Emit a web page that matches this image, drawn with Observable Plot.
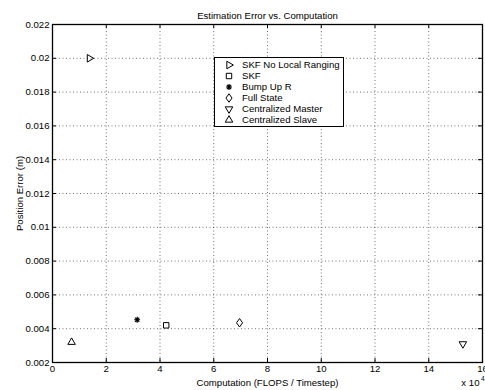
<!DOCTYPE html>
<html>
<head>
<meta charset="utf-8">
<script src="https://cdn.jsdelivr.net/npm/d3@7"></script>
<script src="https://cdn.jsdelivr.net/npm/@observablehq/plot@0.6"></script>
<style>
  html, body { margin: 0; padding: 0; background: #fff; }
  #wrap { position: relative; width: 485px; height: 390px; font-family: 'Liberation Sans', Arial, sans-serif; }
  #legend { position: absolute; left: 214px; top: 57px; width: 128px; height: 67px; border: 1px solid #000; background: #fff; box-sizing: content-box; padding-top: 1px; }
  .row { display: flex; align-items: center; height: 11px; font-size: 9.6px; color: #000; white-space: nowrap; }
  .row svg { flex: none; width: 12px; height: 10px; margin-left: 8px; margin-right: 7px; overflow: visible; }
</style>
</head>
<body>
<div id="wrap"></div>
<script>
// ---- data ----
const names = ["SKF No Local Ranging", "SKF", "Bump Up R", "Full State", "Centralized Master", "Centralized Slave"];
const flops = [13750, 42300, 31500, 69600, 152700, 7100];
const posErr = [0.0200, 0.0042, 0.00453, 0.00435, 0.0031, 0.0032];
const xTicks = [0, 20000, 40000, 60000, 80000, 100000, 120000, 140000, 160000];
const yTicks = [0.002, 0.004, 0.006, 0.008, 0.010, 0.012, 0.014, 0.016, 0.018, 0.020, 0.022];
const titleText = "Estimation Error vs. Computation";
const xLabel = "Computation (FLOPS / Timestep)";
const yLabel = "Position Error (m)";

// ---- custom marker shapes (MATLAB-like) ----
function triangle(angleDeg) {
  return {
    draw(ctx, size) {
      const R = Math.sqrt(size) * 0.72;
      for (let i = 0; i < 3; i++) {
        const a = (angleDeg + i * 120) * Math.PI / 180;
        const px = R * Math.cos(a), py = -R * Math.sin(a);
        if (i === 0) ctx.moveTo(px, py); else ctx.lineTo(px, py);
      }
      ctx.closePath();
    }
  };
}
const asterisk8 = {
  draw(ctx, size) {
    const r = Math.sqrt(size) * 0.5;
    const d = r * Math.SQRT1_2;
    ctx.moveTo(-r, 0); ctx.lineTo(r, 0);
    ctx.moveTo(0, -r); ctx.lineTo(0, r);
    ctx.moveTo(-d, -d); ctx.lineTo(d, d);
    ctx.moveTo(-d, d); ctx.lineTo(d, -d);
  }
};
const square = {
  draw(ctx, size) {
    const s = Math.sqrt(size) * 0.45;
    ctx.rect(-s, -s, 2 * s, 2 * s);
  }
};
const diamond = {
  draw(ctx, size) {
    const h = Math.sqrt(size) * 0.7, w = h * 0.72;
    ctx.moveTo(0, -h); ctx.lineTo(w, 0); ctx.lineTo(0, h); ctx.lineTo(-w, 0); ctx.closePath();
  }
};
const shapes = [triangle(0), square, asterisk8, diamond, triangle(-90), triangle(90)];
const boldName = "Bump Up R";

const data = names.map((n, i) => ({name: n, x: flops[i], y: posErr[i]}));

const W = 485, H = 390, mL = 52, mR = 3, mT = 24, mB = 28;
const innerH = H - mT - mB, innerW = W - mL - mR;
const font = "'Liberation Sans', Arial, sans-serif";
const fs = 9.6;
const fmtY = d => String(+d.toFixed(3));
const fmtX = d => String(d / 1e4);

const chart = Plot.plot({
  width: W, height: H,
  marginLeft: mL, marginRight: mR, marginTop: mT, marginBottom: mB,
  style: {fontFamily: font, fontSize: fs + "px", background: "#fff", color: "#000", overflow: "visible"},
  x: {domain: [0, 160000]},
  y: {domain: [0.002, 0.022]},
  symbol: {domain: names, range: shapes},
  marks: [
    Plot.gridX(xTicks.slice(1, -1), {stroke: "#000", strokeOpacity: 0.55, strokeDasharray: "1,2.5"}),
    Plot.gridY(yTicks.slice(1, -1), {stroke: "#000", strokeOpacity: 0.55, strokeDasharray: "1,2.5"}),
    Plot.axisX(xTicks, {tickSize: 0, tickPadding: 3, tickFormat: fmtX, fontSize: fs,
      label: xLabel, labelAnchor: "center", labelOffset: 23, labelArrow: "none"}),
    Plot.axisY(yTicks, {tickSize: 0, tickPadding: 3, tickFormat: fmtY, fontSize: fs,
      label: yLabel, labelAnchor: "center", labelOffset: 36, labelArrow: "none"}),
    Plot.tickX(xTicks, {x: d => d, insetTop: innerH - 4, stroke: "#000"}),
    Plot.tickX(xTicks, {x: d => d, insetBottom: innerH - 4, stroke: "#000"}),
    Plot.tickY(yTicks, {y: d => d, insetRight: innerW - 4, stroke: "#000"}),
    Plot.tickY(yTicks, {y: d => d, insetLeft: innerW - 4, stroke: "#000"}),
    Plot.frame({stroke: "#000", strokeWidth: 1.3}),
    Plot.dot(data, {x: "x", y: "y", symbol: "name", r: 3.4, stroke: "#000", fill: "none",
      strokeWidth: d => d.name === boldName ? 1.2 : 1}),
    Plot.text([titleText], {text: d => d, frameAnchor: "top", dy: -12, fontSize: fs}),
    Plot.text(["x 10"], {text: d => d, frameAnchor: "bottom-right", dx: -3, dy: 23, textAnchor: "end", fontSize: fs}),
    Plot.text(["4"], {text: d => d, frameAnchor: "bottom-right", dx: -1.5, dy: 18, textAnchor: "start", fontSize: 6.5})
  ]
});

const wrap = document.getElementById("wrap");
wrap.appendChild(chart);

// ---- legend (HTML overlay) ----
const legend = document.createElement("div");
legend.id = "legend";
names.forEach((n, i) => {
  const row = document.createElement("div");
  row.className = "row";
  const p = d3.path();
  shapes[i].draw(p, 3.4 * 3.4 * Math.PI);
  const sw = n === boldName ? 1.2 : 1;
  row.innerHTML = `<svg viewBox="-6 -5 12 10"><path d="${p.toString()}" fill="none" stroke="#000" stroke-width="${sw}"/></svg><span>${n}</span>`;
  legend.appendChild(row);
});
wrap.appendChild(legend);
</script>
</body>
</html>
